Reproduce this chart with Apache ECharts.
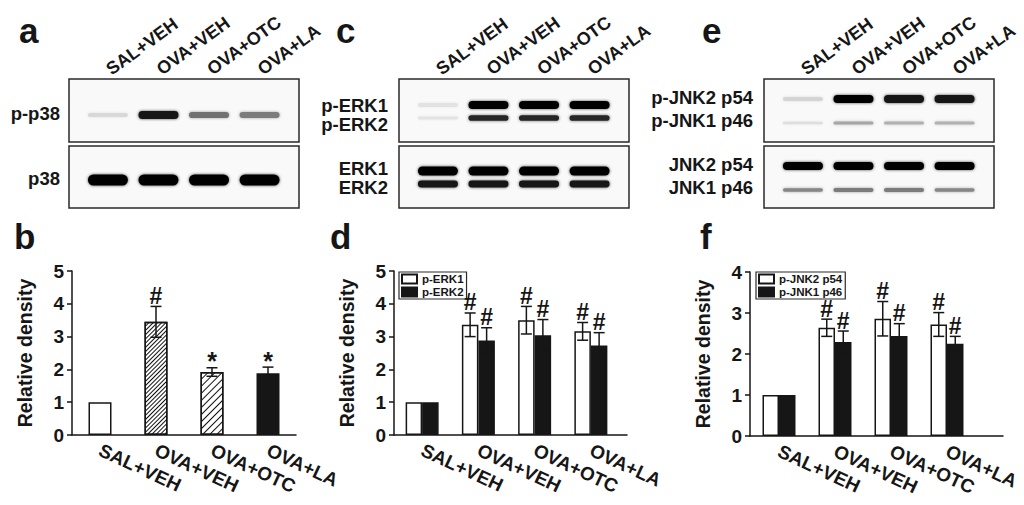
<!DOCTYPE html>
<html>
<head>
<meta charset="utf-8">
<title>MAPK phosphorylation</title>
<script src="https://cdn.jsdelivr.net/npm/echarts@6/dist/echarts.min.js"></script>
<style>
  html, body { margin: 0; background: #fff; }
  #main { width: 1024px; height: 505px; }
</style>
</head>
<body>
<div id="main"></div>
<script>
// groups (lanes / bar categories)
const lanes = ['SAL+VEH', 'OVA+VEH', 'OVA+OTC', 'OVA+LA'];

// blot band darkness per lane (0 = nothing, 1 = saturated)
const pp38 = [0.1, 0.95, 0.6, 0.55];
const p38 = [1, 1, 1, 1];
const pERK1 = [0.05, 1, 1, 1];
const pERK2 = [0.04, 0.9, 0.9, 0.9];
const ERK1 = [1, 1, 1, 1];
const ERK2 = [0.95, 0.95, 0.95, 0.95];
const pJNK2 = [0.12, 1, 0.95, 0.95];
const pJNK1 = [0.07, 0.35, 0.3, 0.3];
const JNK2 = [1, 1, 1, 1];
const JNK1 = [0.5, 0.55, 0.55, 0.5];

// row labels of the blots
const aRowLabels = ['p-p38', 'p38'];
const cRowLabels = ['p-ERK1', 'p-ERK2', 'ERK1', 'ERK2'];
const eRowLabels = ['p-JNK2 p54', 'p-JNK1 p46', 'JNK2 p54', 'JNK1 p46'];

// b: p-p38 relative density
const bMean = [1, 3.45, 1.92, 1.88];
const bErr = [0, 0.47, 0.13, 0.19];
const bMarks = ['', '#', '*', '*'];

// d: p-ERK relative density
const dERK1 = [1, 3.36, 3.5, 3.16];
const dERK1Err = [0, 0.36, 0.42, 0.27];
const dERK2 = [1, 2.88, 3.04, 2.73];
const dERK2Err = [0, 0.39, 0.48, 0.39];
const dMarks = ['', '#', '#', '#'];

// f: p-JNK relative density
const fP54 = [1, 2.64, 2.86, 2.72];
const fP54Err = [0, 0.21, 0.42, 0.29];
const fP46 = [1, 2.29, 2.44, 2.25];
const fP46Err = [0, 0.27, 0.3, 0.18];
const fMarks = ['', '#', '#', '#'];

const FONT = '"Liberation Sans", Arial, sans-serif';
const INK = '#161616';
const labelFont = { fontFamily: FONT, fontWeight: 'bold', color: INK };
const hidden = { show: false };

const grid = [], xAxis = [], yAxis = [], series = [], graphic = [];

function addGrid(g, x, y) {
  grid.push(g);
  const i = grid.length - 1;
  xAxis.push(Object.assign({ gridIndex: i }, x));
  yAxis.push(Object.assign({ gridIndex: i }, y));
  return i;
}

// ---------- blots ----------
const blotX = [69, 399, 764];
const BOX_W = 230;
const boxRows = [[79, 63], [146, 62]];   // top, height
// [values, y inside box, max thickness]
const blotSets = [
  [[[pp38, 36, 8]], [[p38, 34, 11]]],
  [[[pERK1, 26, 8], [pERK2, 39, 6]], [[ERK1, 25, 9], [ERK2, 38, 7]]],
  [[[pJNK2, 20, 8], [pJNK1, 44, 5]], [[JNK2, 20, 8], [JNK1, 44, 5]]]
];

function bandItem(params, api) {
  const c = api.coord([api.value(0), api.value(1)]);
  const v = api.value(2), t = api.value(3);
  const h = Math.max(1.5, t * (0.45 + 0.55 * v));
  const w = 40;
  const g = Math.round(235 * Math.pow(1 - v, 0.8));
  return {
    type: 'rect',
    shape: { x: c[0] - w / 2, y: c[1] - h / 2, width: w, height: h, r: h / 2 },
    style: { fill: 'rgb(' + g + ',' + g + ',' + g + ')', shadowBlur: 3, shadowColor: 'rgba(' + g + ',' + g + ',' + g + ',0.7)' }
  };
}

blotX.forEach((bx, p) => {
  boxRows.forEach(([top, h], r) => {
    const gi = addGrid(
      { left: bx, top: top, width: BOX_W, height: h, show: true, backgroundColor: '#f9f9f9', borderColor: '#2a2a2a', borderWidth: 1.5 },
      { type: 'value', min: -0.77, max: 3.78, show: false },
      { type: 'value', min: 0, max: h, inverse: true, show: false }
    );
    const rows = blotSets[p][r];
    series.push({
      type: 'custom', xAxisIndex: gi, yAxisIndex: gi, renderItem: bandItem, encode: { x: 0, y: 1 },
      data: rows.flatMap(([vals, y, t]) => vals.map((v, i) => [i, y, v, t]))
    });
  });
  // lane names above the blot
  addGrid(
    { left: bx + 14, top: 79, width: 202, height: 1 },
    { type: 'category', data: lanes, position: 'top', axisLine: hidden, axisTick: hidden,
      axisLabel: Object.assign({}, labelFont, { fontSize: 18, rotate: 36, margin: 8, interval: 0 }) },
    { type: 'value', show: false }
  );
});

// row labels
const rowLabelPos = [
  [aRowLabels, 60, [113, 178]],
  [cRowLabels, 388, [105, 124, 168, 187]],
  [eRowLabels, 753, [97, 120, 164, 187]]
];
rowLabelPos.forEach(([names, x, ys]) => {
  names.forEach((t, i) => {
    graphic.push({ type: 'text', x: x, y: ys[i],
      style: { text: t, font: 'bold 18.5px ' + FONT, fill: INK, align: 'right', verticalAlign: 'middle' } });
  });
});

// panel letters
[['a', 19, 42], ['b', 14, 248], ['c', 336, 42], ['d', 330, 248], ['e', 702, 42], ['f', 700, 248]].forEach(([t, x, base]) => {
  graphic.push({ type: 'text', x: x, y: base - 12,
    style: { text: t, font: 'bold 35px ' + FONT, fill: INK, align: 'left', verticalAlign: 'middle' } });
});

// ---------- bar charts ----------
const axisLine = { show: true, lineStyle: { color: INK, width: 1.5 } };
const catLabel = Object.assign({}, labelFont, { fontSize: 19, rotate: -25, margin: 14, interval: 0 });

function valueY(max) {
  return {
    type: 'value', min: 0, max: max, interval: 1,
    axisLine: axisLine,
    axisTick: { show: true, length: 5, lineStyle: { color: INK, width: 1.5 } },
    splitLine: hidden,
    axisLabel: Object.assign({}, labelFont, { fontSize: 19, margin: 8 }),
    name: 'Relative density', nameLocation: 'middle', nameGap: 37,
    nameTextStyle: Object.assign({}, labelFont, { fontSize: 19.5 })
  };
}
const lineX = { type: 'value', min: 0, max: 1, axisLine: axisLine, axisTick: hidden, axisLabel: hidden, splitLine: hidden };
const catX = { type: 'category', data: lanes, axisLine: hidden, axisTick: hidden, axisLabel: catLabel };

function errSeries(gi, means, errs, marks, offset) {
  return {
    type: 'custom', xAxisIndex: gi, yAxisIndex: gi, z: 5, encode: { x: 0, y: 1 },
    data: means.map((m, i) => [i, m, errs[i]]),
    renderItem(params, api) {
      const i = api.value(0), m = api.value(1), e = api.value(2);
      const top = api.coord([i, m + e]);
      const bot = api.coord([i, m - e]);
      const x = top[0] + offset;
      const st = { stroke: INK, lineWidth: 1.5 };
      const children = [];
      if (e > 0) {
        children.push(
          { type: 'line', shape: { x1: x, y1: top[1], x2: x, y2: bot[1] }, style: st },
          { type: 'line', shape: { x1: x - 5.5, y1: top[1], x2: x + 5.5, y2: top[1] }, style: st },
          { type: 'line', shape: { x1: x - 5.5, y1: bot[1], x2: x + 5.5, y2: bot[1] }, style: st }
        );
      }
      const mk = marks[params.dataIndex];
      if (mk) {
        children.push({ type: 'text', style: { text: mk, x: x, y: top[1] + (mk === '*' ? 6 : 1),
          align: 'center', verticalAlign: 'bottom', font: 'bold ' + (mk === '*' ? 25 : 23) + 'px ' + FONT, fill: INK } });
      }
      return { type: 'group', children: children };
    }
  };
}

function hatch(gap) {
  return { symbol: 'rect', symbolSize: 1, dashArrayX: [1, 0], dashArrayY: [1, gap], rotation: -Math.PI / 4, color: '#111' };
}

// b
const bFill = [
  { color: '#fff' },
  { color: '#fff', decal: hatch(2) },
  { color: '#fff', decal: hatch(4) },
  { color: INK }
];
const gb = addGrid({ left: 72, top: 271, width: 224, height: 164 },
  Object.assign({}, catX, { axisLine: axisLine }), valueY(5));
series.push({
  type: 'bar', name: 'p-p38', xAxisIndex: gb, yAxisIndex: gb, barWidth: 23,
  itemStyle: { borderColor: INK, borderWidth: 1.5 },
  data: bMean.map((v, i) => ({ value: v, itemStyle: bFill[i] }))
});
series.push(errSeries(gb, bMean, bErr, bMarks, 0));

// d and f
const pairPanels = [
  { line: { left: 394, width: 233 }, cat: { left: 394, width: 225 }, top: 271, max: 5,
    names: ['p-ERK1', 'p-ERK2'], a: dERK1, aErr: dERK1Err, b: dERK2, bErr: dERK2Err, marks: dMarks, legend: [399, 272] },
  { line: { left: 750, width: 253 }, cat: { left: 751, width: 224 }, top: 272, max: 4,
    names: ['p-JNK2 p54', 'p-JNK1 p46'], a: fP54, aErr: fP54Err, b: fP46, bErr: fP46Err, marks: fMarks, legend: [756, 272] }
];
const BW = 16.5;
const legend = [];
pairPanels.forEach(pp => {
  addGrid({ left: pp.line.left, top: pp.top, width: pp.line.width, height: 164 }, lineX, valueY(pp.max));
  const gc = addGrid({ left: pp.cat.left, top: pp.top, width: pp.cat.width, height: 164 }, catX,
    { type: 'value', min: 0, max: pp.max, show: false });
  series.push(
    { type: 'bar', name: pp.names[0], xAxisIndex: gc, yAxisIndex: gc, barWidth: BW, barGap: '0%',
      itemStyle: { color: '#fff', borderColor: INK, borderWidth: 1.5 }, data: pp.a },
    { type: 'bar', name: pp.names[1], xAxisIndex: gc, yAxisIndex: gc, barWidth: BW, barGap: '0%',
      itemStyle: { color: INK, borderColor: INK, borderWidth: 1.5 }, data: pp.b },
    errSeries(gc, pp.a, pp.aErr, pp.marks, -BW / 2),
    errSeries(gc, pp.b, pp.bErr, pp.marks, BW / 2)
  );
  legend.push({
    data: pp.names, left: pp.legend[0], top: pp.legend[1], orient: 'vertical', icon: 'rect',
    itemWidth: 15, itemHeight: 9, itemGap: 1, padding: [1, 3, 1, 2],
    borderColor: '#2a2a2a', borderWidth: 1.2, selectedMode: false,
    textStyle: Object.assign({}, labelFont, { fontSize: 11.5, lineHeight: 11 })
  });
});

const chart = echarts.init(document.getElementById('main'), null, { renderer: 'svg' });
chart.setOption({
  animation: false,
  backgroundColor: '#fff',
  grid: grid,
  xAxis: xAxis,
  yAxis: yAxis,
  legend: legend,
  graphic: graphic,
  series: series
});
window.onresize = function () { chart.resize(); };
</script>
</body>
</html>
